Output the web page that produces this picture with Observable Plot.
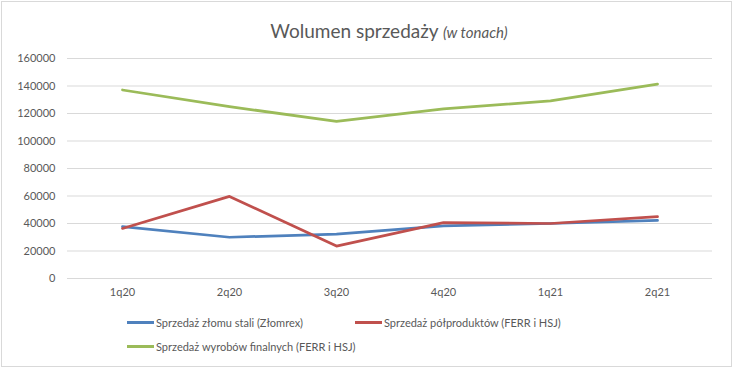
<!DOCTYPE html>
<html>
<head>
<meta charset="utf-8">
<script src="https://cdn.jsdelivr.net/npm/d3@7"></script>
<script src="https://cdn.jsdelivr.net/npm/@observablehq/plot@0.6"></script>
<style>
  html, body { margin: 0; padding: 0; background: #fff; }
  #wrap { position: relative; width: 739px; height: 376px; font-family: Lato, "Open Sans", sans-serif; }
  #frame { position: absolute; left: 1px; top: 1px; width: 731px; height: 366px; border: 1px solid #d9d9d9; box-sizing: border-box; pointer-events: none; }
  #chart { position: absolute; left: 0; top: 0; }
  #title { position: absolute; left: 0; width: 778px; top: 19px; text-align: center; font-size: 19px; color: #595959; font-weight: 400; }
  #title i { font-size: 15px; }
  .leg { position: absolute; font-size: 11px; color: #595959; white-space: nowrap; display: flex; align-items: center; }
  .sw { display: inline-block; width: 27px; height: 3px; margin-right: 2px; }
</style>
</head>
<body>
<div id="wrap">
  <div id="chart"></div>
  <div id="title">Wolumen sprzedaży <i>(w tonach)</i></div>
  <div id="legend"></div>
  <div id="frame"></div>
</div>
<script>
const quarters = ["1q20", "2q20", "3q20", "4q20", "1q21", "2q21"];
const seriesNames = [
  "Sprzedaż złomu stali (Złomrex)",
  "Sprzedaż półproduktów (FERR i HSJ)",
  "Sprzedaż wyrobów finalnych (FERR i HSJ)"
];
const scrap = [37800, 30000, 32300, 38300, 40000, 42300];
const semi = [36400, 59700, 23600, 40700, 40000, 45000];
const finals = [137100, 125000, 114300, 123400, 129200, 141400];
const colors = ["#4F81BD", "#C0504D", "#9BBB59"];
const yTicks = [0, 20000, 40000, 60000, 80000, 100000, 120000, 140000, 160000];

const allSeries = [scrap, semi, finals];
const data = [];
allSeries.forEach((vals, i) => {
  vals.forEach((v, j) => data.push({ s: seriesNames[i], q: quarters[j], v }));
});

const chart = Plot.plot({
  width: 739,
  height: 300,
  marginTop: 58,
  marginBottom: 22,
  marginLeft: 67,
  marginRight: 27,
  style: { fontFamily: "Lato, 'Open Sans', sans-serif", fontSize: "11px", color: "#595959", background: "transparent" },
  x: { type: "point", domain: quarters, padding: 0.5, label: null },
  y: { domain: [0, 160000], label: null },
  color: { domain: seriesNames, range: colors },
  marks: [
    Plot.gridY(yTicks, { stroke: "#d9d9d9", strokeOpacity: 1, strokeWidth: 1 }),
    Plot.axisY(yTicks, { tickSize: 0, tickPadding: 12, tickFormat: d => String(d), fill: "#595959", label: null }),
    Plot.axisX(quarters, { tickSize: 0, tickPadding: 10, fill: "#595959", label: null }),
    Plot.line(data, { x: "q", y: "v", z: "s", stroke: "s", strokeWidth: 2.75, strokeLinejoin: "round", strokeLinecap: "round" })
  ]
});
document.getElementById("chart").appendChild(chart);

const legendPos = [
  { left: 127, top: 316 },
  { left: 355, top: 316 },
  { left: 127, top: 340 }
];
const legend = document.getElementById("legend");
seriesNames.forEach((name, i) => {
  const d = document.createElement("div");
  d.className = "leg";
  d.style.left = legendPos[i].left + "px";
  d.style.top = legendPos[i].top + "px";
  const sw = document.createElement("span");
  sw.className = "sw";
  sw.style.background = colors[i];
  d.appendChild(sw);
  d.appendChild(document.createTextNode(name));
  legend.appendChild(d);
});
</script>
</body>
</html>
